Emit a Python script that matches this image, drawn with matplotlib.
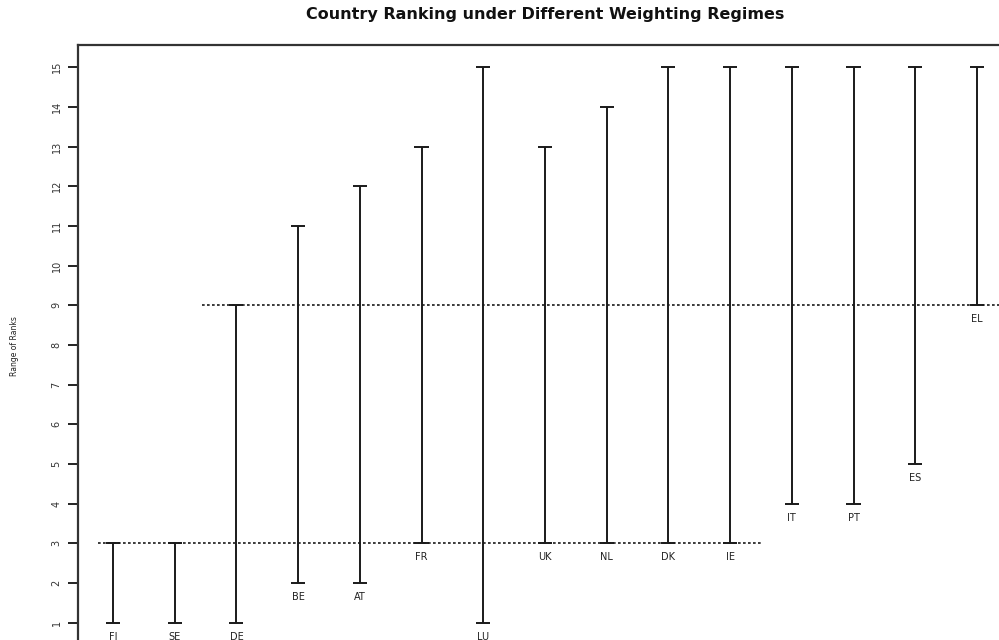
import numpy as np
import matplotlib.pyplot as plt

# rank range of each country across the weighting regimes
countries = ["FI", "SE", "DE", "BE", "AT", "FR", "LU", "UK",
             "NL", "DK", "IE", "IT", "PT", "ES", "EL"]
rank_low = [1, 1, 1, 2, 2, 3, 1, 3, 3, 3, 3, 4, 4, 5, 9]
rank_high = [3, 3, 9, 11, 12, 13, 15, 13, 14, 15, 15, 15, 15, 15, 15]

# dotted cut-off levels and the x-span each one covers
cut_levels = [3, 9]
cut_spans = [(0.75, 11.5), (2.45, 16.0)]

fig = plt.figure(figsize=(9.99, 6.40), dpi=100)
ax = fig.add_axes([0.0785, -0.0078, 0.934, 0.9375])

x = np.arange(1, len(countries) + 1)
ink = "#1a1a1a"
cap = 0.115

ax.vlines(x, rank_low, rank_high, color=ink, lw=1.4)
ax.hlines(rank_low, x - cap, x + cap, color=ink, lw=1.4)
ax.hlines(rank_high, x - cap, x + cap, color=ink, lw=1.4)

for lvl, (x0, x1) in zip(cut_levels, cut_spans):
    ax.hlines(lvl, x0, x1, color=ink, lw=1.2, linestyles=(0, (1.6, 1.4)))

for xi, lo, name in zip(x, rank_low, countries):
    ax.annotate(name, (xi, lo), xytext=(0, -10), textcoords="offset points",
                ha="center", va="center", fontsize=7, color="#222222",
                family="DejaVu Sans")

ax.set_xlim(0.44, 15.56)
ax.set_ylim(0.44, 15.56)
ax.set_yticks(range(1, 16))
ax.set_yticklabels([str(v) for v in range(1, 16)], rotation=90, va="center",
                   fontsize=7, color="#333333", family="DejaVu Sans")
ax.tick_params(axis="y", length=7.2, width=1.4, pad=5, color="#222222")
ax.set_xticks([])
for sp in ax.spines.values():
    sp.set_linewidth(1.6)
    sp.set_color("#333333")

fig.text(0.015, 0.46, "Range of Ranks", rotation=90, ha="center", va="center",
         fontsize=5.5, color="#222222", family="Liberation Sans Narrow")
fig.text(0.5455, 0.977, "Country Ranking under Different Weighting Regimes",
         ha="center", va="center", fontsize=11.5, fontweight="bold",
         color="#111111", family="DejaVu Sans")

fig.savefig("out.png", dpi=100)
